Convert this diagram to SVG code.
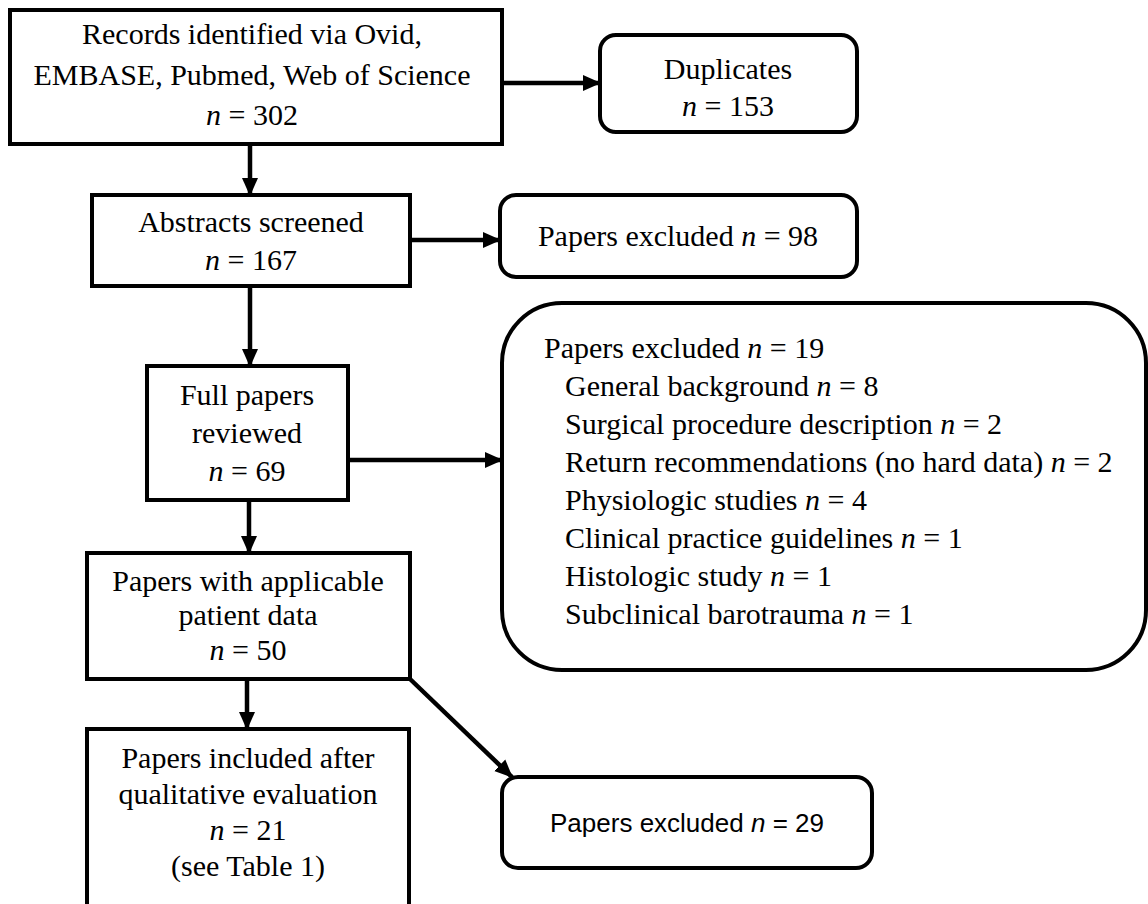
<svg xmlns="http://www.w3.org/2000/svg" width="1148" height="904" viewBox="0 0 1148 904">
<defs>
<style>
.box{fill:#fff;stroke:#000;stroke-width:4}
.t{font-family:"Liberation Serif","Times New Roman",serif;font-size:30px;fill:#000}
.c{text-anchor:middle}
.s{font-family:"Liberation Sans",Arial,sans-serif;font-size:26px;fill:#000}
.i{font-style:italic}
.conn{stroke:#000;stroke-width:4.5;fill:none;marker-end:url(#ah)}
</style>
<marker id="ah" markerUnits="userSpaceOnUse" markerWidth="18" markerHeight="18" viewBox="0 0 18 18" refX="17" refY="9" orient="auto">
<path d="M0,1 L18,9 L0,17 z" fill="#000"/>
</marker>
</defs>
<rect width="1148" height="904" fill="#fff"/>
<g id="connectors">
<line class="conn" x1="502" y1="83" x2="600" y2="83"/>
<line class="conn" x1="250" y1="144" x2="250" y2="195"/>
<line class="conn" x1="410" y1="240" x2="500" y2="240"/>
<line class="conn" x1="250" y1="286" x2="250" y2="366"/>
<line class="conn" x1="348" y1="460" x2="502" y2="460"/>
<line class="conn" x1="249" y1="500" x2="249" y2="553"/>
<line class="conn" x1="247" y1="679" x2="247" y2="729"/>
<line class="conn" x1="410" y1="679" x2="512" y2="777"/>
</g>
<g id="records">
<rect class="box" x="10" y="10" width="492" height="134"/>
<text class="t c" x="252" y="44">Records identified via Ovid,</text>
<text class="t c" x="252" y="85">EMBASE, Pubmed, Web of Science</text>
<text class="t c" x="252" y="125"><tspan class="i">n</tspan> = 302</text>
</g>
<g id="duplicates">
<rect class="box" x="600" y="35" width="257" height="97" rx="16"/>
<text class="t c" x="728" y="79">Duplicates</text>
<text class="t c" x="728" y="116"><tspan class="i">n</tspan> = 153</text>
</g>
<g id="abstracts">
<rect class="box" x="92" y="195" width="318" height="91"/>
<text class="t c" x="251" y="232">Abstracts screened</text>
<text class="t c" x="251" y="270"><tspan class="i">n</tspan> = 167</text>
</g>
<g id="excluded98">
<rect class="box" x="500" y="195" width="357" height="82" rx="16"/>
<text class="t c" x="678" y="246">Papers excluded <tspan class="i">n</tspan> = 98</text>
</g>
<g id="fullpapers">
<rect class="box" x="147" y="366" width="201" height="134"/>
<text class="t c" x="247" y="405">Full papers</text>
<text class="t c" x="247" y="443">reviewed</text>
<text class="t c" x="247" y="481"><tspan class="i">n</tspan> = 69</text>
</g>
<g id="excluded19">
<rect class="box" x="502" y="303" width="644" height="367" rx="60"/>
<text class="t" x="544" y="358">Papers excluded <tspan class="i">n</tspan> = 19</text>
<text class="t" x="565" y="396">General background <tspan class="i">n</tspan> = 8</text>
<text class="t" x="565" y="434">Surgical procedure description <tspan class="i">n</tspan> = 2</text>
<text class="t" x="565" y="472">Return recommendations (no hard data) <tspan class="i">n</tspan> = 2</text>
<text class="t" x="565" y="510">Physiologic studies <tspan class="i">n</tspan> = 4</text>
<text class="t" x="565" y="548">Clinical practice guidelines <tspan class="i">n</tspan> = 1</text>
<text class="t" x="565" y="586">Histologic study <tspan class="i">n</tspan> = 1</text>
<text class="t" x="565" y="624">Subclinical barotrauma <tspan class="i">n</tspan> = 1</text>
</g>
<g id="applicable">
<rect class="box" x="87" y="553" width="323" height="126"/>
<text class="t c" x="248" y="591">Papers with applicable</text>
<text class="t c" x="248" y="625">patient data</text>
<text class="t c" x="248" y="660"><tspan class="i">n</tspan> = 50</text>
</g>
<g id="included">
<rect class="box" x="87" y="729" width="322" height="200"/>
<text class="t c" x="248" y="768">Papers included after</text>
<text class="t c" x="248" y="804">qualitative evaluation</text>
<text class="t c" x="248" y="840"><tspan class="i">n</tspan> = 21</text>
<text class="t c" x="248" y="876">(see Table 1)</text>
</g>
<g id="excluded29">
<rect class="box" x="502" y="777" width="370" height="91" rx="16"/>
<text class="s c" x="687" y="832">Papers excluded <tspan class="i">n</tspan> = 29</text>
</g>
</svg>
